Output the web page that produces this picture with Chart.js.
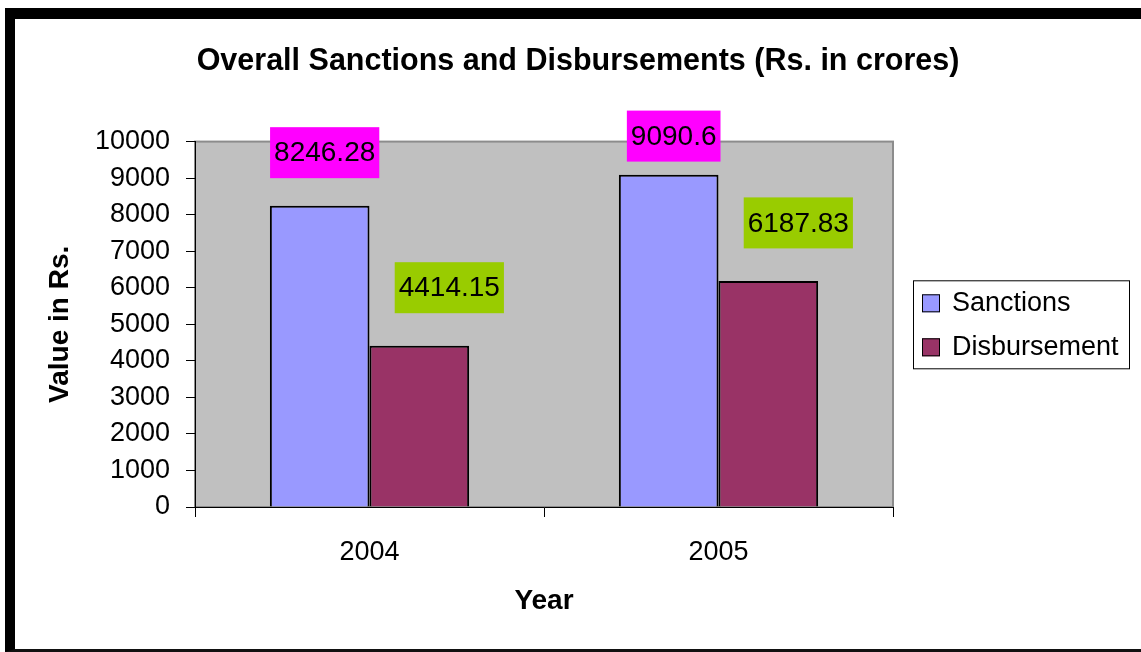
<!DOCTYPE html>
<html>
<head>
<meta charset="utf-8">
<script src="https://cdn.jsdelivr.net/npm/chart.js@4.4.1/dist/chart.umd.min.js"></script>
<style>
  html, body { margin: 0; padding: 0; background: #fff; overflow: hidden; }
  #frame {
    position: absolute; left: 5px; top: 8px;
    width: 1126px; height: 630px;
    border-top: 11px solid #000;
    border-left: 10px solid #000;
    border-bottom: 3px solid #111;
  }
  #chart { position: absolute; left: 0; top: 0; }
</style>
</head>
<body>
<div id="frame"></div>
<canvas id="chart" width="1141" height="652"></canvas>
<script>
// data
const years = ['2004', '2005'];
const sanctions = [8246.28, 9090.6];
const disbursement = [4414.15, 6187.83];
const yTicks = [0, 1000, 2000, 3000, 4000, 5000, 6000, 7000, 8000, 9000, 10000];

const FONT = "'Liberation Sans', Arial, Helvetica, sans-serif";
Chart.defaults.font.family = FONT;
Chart.defaults.color = '#000';

// grey plot area with a thin grey frame
const plotArea = {
  id: 'plotArea',
  beforeDraw(chart) {
    const { ctx, chartArea: a } = chart;
    ctx.save();
    ctx.fillStyle = '#C0C0C0';
    ctx.fillRect(a.left, a.top, a.right - a.left, a.bottom - a.top);
    ctx.strokeStyle = '#8C8C8C';
    ctx.lineWidth = 2;
    ctx.strokeRect(a.left, a.top, a.right - a.left, a.bottom - a.top);
    ctx.restore();
  }
};

// coloured value boxes above the bars
const labelStyle = [
  { bg: '#FF00FF', dx: 5, dy: -53 },
  { bg: '#99CC00', dx: 30, dy: -58 }
];
const valueBoxes = {
  id: 'valueBoxes',
  afterDatasetsDraw(chart) {
    const ctx = chart.ctx;
    ctx.save();
    ctx.font = '28px ' + FONT;
    ctx.textAlign = 'center';
    ctx.textBaseline = 'middle';
    chart.data.datasets.forEach((ds, i) => {
      const st = labelStyle[i];
      chart.getDatasetMeta(i).data.forEach((bar, j) => {
        const text = String(ds.data[j]);
        const w = ctx.measureText(text).width + 8;
        const h = 51;
        const cx = bar.x + st.dx;
        const cy = Math.max(bar.y + st.dy, chart.chartArea.top - 5.5);
        ctx.fillStyle = st.bg;
        ctx.fillRect(cx - w / 2, cy - h / 2, w, h);
        ctx.fillStyle = '#000';
        ctx.fillText(text, cx, cy + 1);
      });
    });
    ctx.restore();
  }
};

// framed legend, added as a layout box on the right so the title stays centred
function drawLegend(chart, box) {
  const { ctx, chartArea: a } = chart;
  const rowH = 44;
  const sets = chart.data.datasets;
  const left = box.left + 20, width = 216;
  const height = rowH * sets.length;
  const top = (a.top + a.bottom) / 2 - height / 2;
  ctx.save();
  ctx.strokeStyle = '#000';
  ctx.lineWidth = 1;
  ctx.strokeRect(left + 0.5, top + 0.5, width, height);
  ctx.font = '27px ' + FONT;
  ctx.textBaseline = 'middle';
  ctx.textAlign = 'left';
  sets.forEach((ds, i) => {
    const cy = top + rowH / 2 + i * rowH + 1;
    ctx.fillStyle = ds.backgroundColor;
    ctx.fillRect(left + 9, cy - 9, 18, 18);
    ctx.strokeRect(left + 9.5, cy - 8.5, 17, 17);
    ctx.fillStyle = '#000';
    ctx.fillText(ds.label, left + 39, cy);
  });
  ctx.restore();
}

const boxLegend = {
  id: 'boxLegend',
  start(chart) {
    const box = {
      position: 'right',
      weight: 10,
      fullSize: false,
      options: {},
      left: 0, top: 0, right: 0, bottom: 0, width: 0, height: 0,
      isHorizontal() { return false; },
      update(maxWidth, maxHeight) {
        this.width = 248;
        this.height = maxHeight;
      },
      draw() { drawLegend(chart, this); }
    };
    Chart.layouts.addBox(chart, box);
  }
};

new Chart(document.getElementById('chart'), {
  type: 'bar',
  data: {
    labels: years,
    datasets: [
      {
        label: 'Sanctions',
        data: sanctions,
        backgroundColor: '#9999FF',
        borderColor: '#000',
        borderWidth: 2
      },
      {
        label: 'Disbursement',
        data: disbursement,
        backgroundColor: '#993366',
        borderColor: '#000',
        borderWidth: 2
      }
    ]
  },
  options: {
    responsive: false,
    animation: false,
    categoryPercentage: 0.571,
    barPercentage: 1,
    layout: { padding: { top: 18, left: 15, right: 0, bottom: 3 } },
    plugins: {
      legend: { display: false },
      tooltip: { enabled: false },
      title: {
        display: true,
        text: 'Overall Sanctions and Disbursements (Rs. in crores)',
        font: { size: 30.5, weight: 'bold' },
        color: '#000',
        padding: { top: 25, bottom: 62 }
      }
    },
    scales: {
      x: {
        grid: { drawOnChartArea: false, color: '#000', tickLength: 10 },
        border: { color: '#000', width: 1 },
        ticks: { font: { size: 27 }, padding: 19 },
        title: {
          display: true,
          text: 'Year',
          font: { size: 28, weight: 'bold' },
          padding: { top: 0, bottom: 31 }
        },
        afterFit(scale) { scale.height = 142; }
      },
      y: {
        min: yTicks[0],
        max: yTicks[yTicks.length - 1],
        afterBuildTicks(scale) { scale.ticks = yTicks.map(v => ({ value: v })); },
        grid: { drawOnChartArea: false, color: '#000', tickLength: 9 },
        border: { color: '#000', width: 1 },
        ticks: {
          font: { size: 27 },
          padding: 16,
          autoSkip: false,
          callback: v => String(v)
        },
        title: {
          display: true,
          text: 'Value in Rs.',
          font: { size: 28, weight: 'bold' },
          padding: { top: 28, bottom: 0 }
        },
        afterFit(scale) { scale.width = 180; }
      }
    }
  },
  plugins: [plotArea, valueBoxes, boxLegend]
});
</script>
</body>
</html>
